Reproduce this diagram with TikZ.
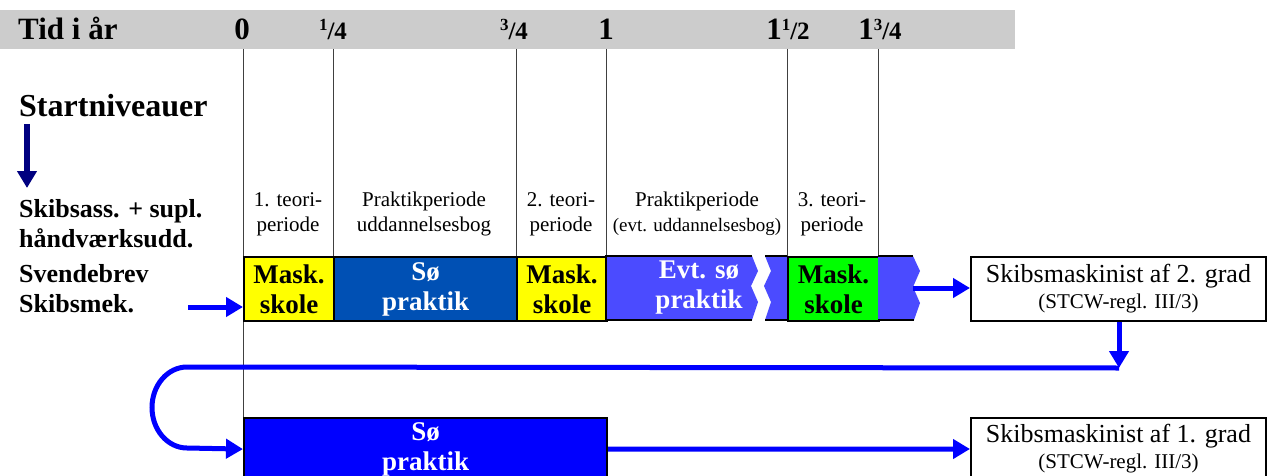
\documentclass[tikz,border=0pt]{standalone}
\usepackage{fontspec}
\setmainfont{Liberation Serif}
\usetikzlibrary{arrows.meta, positioning}
\definecolor{barGray}{RGB}{204,204,204}
\definecolor{skoleYellow}{RGB}{255,255,0}
\definecolor{soeBlue}{RGB}{0,80,180}
\definecolor{evtBlue}{RGB}{75,75,255}
\definecolor{skoleGreen}{RGB}{0,255,0}
\definecolor{pilBlue}{RGB}{0,0,255}
\definecolor{navyBlue}{RGB}{0,0,128}
\tikzstyle{tid} = [anchor=base, inner sep=0pt, font=\fontsize{31}{36}\selectfont\bfseries]
\tikzstyle{niveau} = [anchor=base west, inner sep=0pt, font=\fontsize{26}{30}\selectfont\bfseries]
\tikzstyle{periode} = [align=center, inner sep=0pt, font=\fontsize{21}{25}\selectfont]
\tikzstyle{felt} = [rectangle, draw, line width=2.2pt, anchor=north west, minimum height=64pt, inner sep=0pt, align=center, font=\fontsize{27}{30}\selectfont\bfseries]
\tikzstyle{grad} = [rectangle, draw, line width=2pt, anchor=north west, minimum width=295pt, inner sep=0pt, align=center, font=\fontsize{26}{26}\selectfont]
\tikzstyle{kant} = [line width=2.2pt]
\tikzstyle{skille} = [line width=0.8pt, black!75]
\tikzstyle{pil} = [line width=5pt, pilBlue, -{Triangle[length=17pt, width=19pt]}]
\newcommand{\brok}[2]{\raisebox{9pt}{\fontsize{17}{17}\selectfont #1}{\fontsize{25}{25}\selectfont /#2}}
\newcommand{\stcw}{{\fontsize{21}{24}\selectfont (STCW-regl. III/3)}}

\begin{document}
\begin{tikzpicture}[x=1pt, y=-1pt]
  \useasboundingbox (0,0) rectangle (1268,476);

  % tidsakse
  \fill[barGray] (0,10) rectangle (1015,49);
  \node[tid, anchor=base west] (tid) at (18,40) {Tid i år};
  \node[tid] (t0) at (242,40) {0};
  \node[tid] (t1) at (333,40) {\brok{1}{4}};
  \node[tid] (t3) at (514,40) {\brok{3}{4}};
  \node[tid] (t4) at (606,40) {1};
  \node[tid] (t6) at (788,40) {1\brok{1}{2}};
  \node[tid] (t7) at (880,40) {1\brok{3}{4}};

  % skillelinjer
  \foreach \x in {333,516,606,787,878}
    \draw[skille] (\x,49) -- (\x,256);
  \draw[skille] (243,49) -- (243,417);

  % startniveauer
  \node[niveau, font=\fontsize{32}{36}\selectfont\bfseries] (start) at (19,117) {Startniveauer};
  \coordinate (navtop) at (27,124);
  \coordinate (navbund) at (27,188);
  \draw[line width=5.3pt, navyBlue, -{Triangle[length=17pt, width=19pt]}] (navtop) -- (navbund);
  \node[niveau] (n1) at (19,217) {Skibsass. + supl.};
  \node[niveau] (n2) at (19,247) {håndværksudd.};
  \node[niveau] (n3) at (19,282) {Svendebrev};
  \node[niveau] (n4) at (19,312) {Skibsmek.};

  % perioder
  \node[periode] (p1) at (288,214) {1. teori-\\periode};
  \node[periode] (p2) at (424,214) {Praktikperiode\\uddannelsesbog};
  \node[periode] (p3) at (561,214) {2. teori-\\periode};
  \node[periode] (p4) at (697,214) {Praktikperiode\\{\fontsize{19}{25}\selectfont(evt. uddannelsesbog)}};
  \node[periode] (p5) at (832,214) {3. teori-\\periode};

  % forløb
  \node[felt, fill=skoleYellow, minimum width=90pt] (mask1) at (243,256) {Mask.\\skole};
  \node[felt, fill=soeBlue, text=white, minimum width=183pt] (soe1) at (333,256) {Sø\\praktik};
  \node[felt, fill=skoleYellow, minimum width=90pt] (mask2) at (516,256) {Mask.\\skole};
  \fill[evtBlue] (606,256) -- (752,256) -- (758,271) -- (751,286) -- (758,302) -- (752,320) -- (606,320) -- cycle;
  \draw[kant] (752,256) -- (606,256) -- (606,320) -- (752,320);
  \node[felt, draw=none, anchor=center, text=white] (evt) at (699,288) {Evt. sø\\praktik};
  \fill[evtBlue] (765,256) -- (787,256) -- (787,320) -- (765,320) -- (771,302) -- (764,286) -- (771,271) -- cycle;
  \draw[kant] (765,256) -- (787,256);
  \draw[kant] (765,320) -- (787,320);
  \node[felt, fill=skoleGreen, minimum width=91pt] (mask3) at (787,256) {Mask.\\skole};
  \fill[evtBlue] (878,256) -- (913,256) -- (920,271) -- (913,287) -- (920,303) -- (914,320) -- (878,320) -- cycle;
  \draw[kant] (878,256) -- (913,256);
  \draw[kant] (878,320) -- (914,320);

  \node[grad, minimum height=64pt] (grad2) at (970,256) {Skibsmaskinist af 2. grad\\\stcw};

  \node[felt, fill=pilBlue, text=white, minimum width=363pt, minimum height=62pt] (soe2) at (243,417) {Sø\\praktik};
  \node[grad, minimum height=62pt] (grad1) at (970,417) {Skibsmaskinist af 1. grad\\\stcw};

  % pile
  \coordinate (indgang) at (188,307);
  \draw[pil] (indgang) -- (indgang -| mask1.west);
  \coordinate (hale) at (913,288);
  \draw[pil] (hale) -- (hale -| grad2.west);
  \coordinate (knaek) at (1119,368);
  \draw[pil] (grad2.south -| knaek) -- (knaek);
  \draw[pil] (knaek) -- (187,367) arc[start angle=270, end angle=90, x radius=35, y radius=40.5] -- (soe2.west);
  \draw[pil] (soe2.east) -- (grad1.west);
\end{tikzpicture}
\end{document}
